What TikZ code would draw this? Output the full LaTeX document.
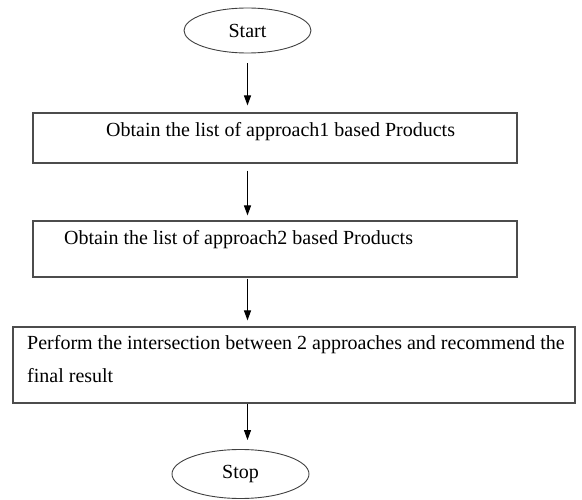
\documentclass[tikz,border=0pt]{standalone}
\usepackage{fontspec}
\setmainfont{Liberation Serif}
\usetikzlibrary{shapes.geometric,arrows.meta}

\tikzset{
  term/.style={ellipse, draw=black!75, line width=0.9pt, inner sep=0pt,
    font=\fontsize{20}{24}\selectfont},
  procbox/.style={rectangle, draw=black!70, line width=1.1pt, inner sep=0pt},
  lbl/.style={anchor=base west, inner sep=0pt, font=\fontsize{20}{24}\selectfont},
  flow/.style={-{Triangle[length=10pt,width=7pt]}, line width=1pt},
}

\begin{document}
\begin{tikzpicture}[x=1pt, y=-1pt]
  \useasboundingbox (0,0) rectangle (582,500);

  % Start / Stop terminals
  \node[term, minimum width=127pt, minimum height=45pt] (start) at (247.5,30.5) {Start};
  \node[term, minimum width=137pt, minimum height=49pt] (stop) at (240.5,474) {Stop};

  % Process boxes
  \node[procbox, minimum width=484pt, minimum height=50pt] (list1) at (275,138) {};
  \node[procbox, minimum width=484pt, minimum height=56pt] (list2) at (275,249) {};
  \node[procbox, minimum width=562pt, minimum height=76pt] (inter) at (294,365) {};

  % Box texts
  \node[lbl] (list1txt) at (106,137) {Obtain the list of approach1 based Products};
  \node[lbl] (list2txt) at (64,245) {Obtain the list of approach2 based Products};
  \node[lbl] (intertxta) at (27,350) {Perform the intersection between 2 approaches and recommend the};
  \node[lbl] (intertxtb) at (27,382) {final result};

  % Flow arrows
  \draw[flow, shorten <=10pt, shorten >=7pt] (start.south) -- (start.south |- list1.north);
  \draw[flow, shorten <=7pt, shorten >=5pt] (list1.south -| start.south) -- (list2.north -| start.south);
  \draw[flow, shorten <=1pt, shorten >=6pt] (list2.south -| start.south) -- (inter.north -| start.south);
  \draw[flow, shorten >=9pt] (inter.south -| start.south) -- (stop.north -| start.south);
\end{tikzpicture}
\end{document}
